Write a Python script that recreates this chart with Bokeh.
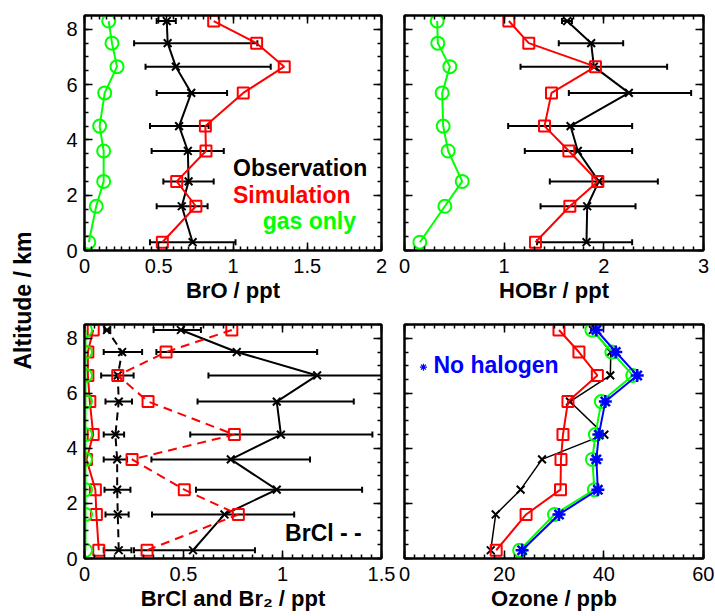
import numpy as np
from bokeh.plotting import figure
from bokeh.layouts import row, column
from bokeh.models import Range1d, LinearAxis, SingleIntervalTicker, CustomJSTickFormatter, Label
from bokeh.embed import file_html
from bokeh.resources import INLINE

# ---------------- data ----------------
alt = [0.3, 1.6, 2.5, 3.6, 4.5, 5.7, 6.65, 7.5, 8.3]

bro_obs = [0.728, 0.655, 0.701, 0.696, 0.637, 0.719, 0.615, 0.560, 0.554]
bro_lo = [0.441, 0.486, 0.531, 0.452, 0.441, 0.486, 0.411, 0.334, 0.486]
bro_hi = [1.017, 0.829, 0.870, 0.938, 0.836, 0.960, 1.254, 1.164, 0.615]
bro_sim = [0.524, 0.750, 0.621, 0.818, 0.814, 1.069, 1.345, 1.159, 0.870]
bro_gas = [0.029, 0.079, 0.129, 0.129, 0.102, 0.136, 0.219, 0.185, 0.163]

hobr_obs = [1.826, 1.833, 1.950, 1.739, 1.666, 2.251, 1.900, 1.873, 1.632]
hobr_lo = [1.330, 1.365, 1.458, 1.207, 1.040, 1.649, 1.164, 1.548, 1.580]
hobr_hi = [2.284, 2.318, 2.542, 2.284, 2.284, 2.876, 2.635, 2.194, 1.680]
hobr_sim = [1.314, 1.659, 1.940, 1.649, 1.405, 1.475, 1.916, 1.247, 1.047]
hobr_gas = [0.154, 0.405, 0.579, 0.438, 0.388, 0.378, 0.455, 0.334, 0.328]

brcl_obs = [0.548, 0.707, 0.971, 0.739, 0.992, 0.971, 1.175, 0.769, 0.487]
brcl_lo = [0.250, 0.341, 0.563, 0.338, 0.534, 0.571, 0.626, 0.363, 0.349]
brcl_hi = [0.861, 1.059, 1.402, 1.139, 1.454, 1.360, 1.600, 1.175, 0.588]
brcl_sim = [0.316, 0.777, 0.504, 0.240, 0.757, 0.321, 0.168, 0.412, 0.744]
br2_obs = [0.173, 0.168, 0.165, 0.165, 0.156, 0.173, 0.168, 0.190, 0.114]
br2_lo = [0.097, 0.106, 0.101, 0.097, 0.097, 0.106, 0.084, 0.097, 0.100]
br2_hi = [0.237, 0.223, 0.232, 0.215, 0.200, 0.240, 0.248, 0.291, 0.130]
br2_sim = [0.072, 0.060, 0.055, 0.010, 0.044, 0.027, 0.017, 0.017, 0.044]
brx_gas = [0.005, 0.005, 0.005, 0.005, 0.005, 0.005, 0.005, 0.005, 0.005]

o3_obs = [17.3, 18.3, 23.3, 27.6, 40.1, 33.2, 41.3, 41.4, 37.8]
o3_sim = [18.4, 24.4, 31.3, 31.4, 31.8, 32.8, 38.7, 35.0, 31.0]
o3_gas = [23.1, 30.1, 38.1, 37.7, 38.3, 39.5, 45.8, 41.6, 37.6]
o3_nohal = [23.6, 31.0, 38.8, 38.5, 39.0, 40.3, 46.7, 42.4, 38.5]

# ---------------- style ----------------
FONT = "Liberation Sans"
RED = "#ff0000"
GREEN = "#00ff00"
BLUE = "#0000ff"


def num_fmt():
    return CustomJSTickFormatter(code="return String(Math.round(tick*1000)/1000)")


def blank_fmt():
    return CustomJSTickFormatter(code="return ''")


def style_axis(ax, show_labels):
    ax.axis_line_width = 2
    ax.axis_line_color = "black"
    ax.major_tick_in = 8
    ax.major_tick_out = 0
    ax.minor_tick_in = 4
    ax.minor_tick_out = 0
    ax.major_tick_line_width = 1.5
    ax.minor_tick_line_width = 1.5
    ax.major_tick_line_color = "black"
    ax.minor_tick_line_color = "black"
    ax.major_label_text_font = FONT
    ax.major_label_text_color = "black"
    ax.major_label_text_font_size = "20px"
    if show_labels:
        ax.formatter = num_fmt()
    else:
        ax.formatter = blank_fmt()
        ax.major_label_standoff = 0


def panel(xmax, xint, xminor, xlabel, ylabels, w, h, bl, br, bt, bb):
    p = figure(width=w, height=h, x_range=Range1d(0, xmax), y_range=Range1d(0, 8.5),
               toolbar_location=None, output_backend="svg",
               min_border_left=bl, min_border_right=br, min_border_top=bt, min_border_bottom=bb)
    p.xaxis.ticker = SingleIntervalTicker(interval=xint, num_minor_ticks=xminor)
    p.yaxis.ticker = SingleIntervalTicker(interval=2, num_minor_ticks=4)
    p.grid.visible = False
    p.outline_line_color = "black"
    p.outline_line_width = 2
    p.background_fill_color = "white"
    p.border_fill_color = "white"
    style_axis(p.xaxis[0], True)
    p.xaxis.major_label_standoff = 8
    p.xaxis.axis_label = xlabel
    p.xaxis.axis_label_text_font = FONT
    p.xaxis.axis_label_text_font_style = "bold"
    p.xaxis.axis_label_text_font_size = "22px"
    p.xaxis.axis_label_text_color = "black"
    p.xaxis.axis_label_standoff = 2
    style_axis(p.yaxis[0], ylabels)
    if ylabels:
        p.yaxis.major_label_standoff = 7
    top = LinearAxis(ticker=SingleIntervalTicker(interval=xint, num_minor_ticks=xminor))
    style_axis(top, False)
    p.add_layout(top, "above")
    right = LinearAxis(ticker=SingleIntervalTicker(interval=2, num_minor_ticks=4))
    style_axis(right, False)
    p.add_layout(right, "right")
    return p


def obs(p, x, lo, hi, dash="solid", bars=True, lw=2):
    if bars:
        p.segment(x0=lo, y0=alt, x1=hi, y1=alt, line_color="black", line_width=2)
        p.scatter(x=lo, y=alt, marker="dash", angle=np.pi / 2, size=6, line_color="black", line_width=2)
        p.scatter(x=hi, y=alt, marker="dash", angle=np.pi / 2, size=6, line_color="black", line_width=2)
    p.line(x, alt, line_color="black", line_width=lw, line_dash=dash)
    p.scatter(x, alt, marker="x", size=11, line_color="black", line_width=2)


def sim(p, x, dash="solid"):
    p.line(x, alt, line_color=RED, line_width=2, line_dash=dash)
    p.scatter(x, alt, marker="square", size=11, line_color=RED, fill_color=None, line_width=2)


def gas(p, x):
    p.line(x, alt, line_color=GREEN, line_width=2)
    p.scatter(x, alt, marker="circle", size=13, line_color=GREEN, fill_color=None, line_width=2)


def txt(p, x, y, t, color, size="23px"):
    p.add_layout(Label(x=x, y=y, text=t, text_color=color, text_font=FONT, text_font_style="bold",
                       text_font_size=size, text_align="left", text_baseline="alphabetic"))


TOP_H, BOT_H = 305, 310
LW, RW = 353, 317

# BrO
p1 = panel(2, 0.5, 10, "BrO / ppt", True, LW, TOP_H, 40, 16, 15, 55)
obs(p1, bro_obs, bro_lo, bro_hi)
sim(p1, bro_sim)
gas(p1, bro_gas)
txt(p1, 1.0, 2.97, "Observation", "black")
txt(p1, 1.0, 2.02, "Simulation", RED)
txt(p1, 1.2, 1.07, "gas only", GREEN)

# HOBr
p2 = panel(3, 1, 10, "HOBr / ppt", False, RW, TOP_H, 7, 11, 15, 55)
obs(p2, hobr_obs, hobr_lo, hobr_hi)
sim(p2, hobr_sim)
gas(p2, hobr_gas)

# BrCl and Br2
p3 = panel(1.5, 0.5, 10, "BrCl and Br\u2082 / ppt", True, LW, BOT_H, 40, 16, 19, 57)
obs(p3, brcl_obs, brcl_lo, brcl_hi)
obs(p3, br2_obs, br2_lo, br2_hi, dash="8 5")
sim(p3, brcl_sim, dash="9 6")
sim(p3, br2_sim)
gas(p3, brx_gas)
txt(p3, 1.013, 0.93, "BrCl - -", "black")

# Ozone
p4 = panel(60, 20, 10, "Ozone / ppb", False, RW, BOT_H, 7, 11, 19, 57)
obs(p4, o3_obs, None, None, bars=False, lw=1.5)
sim(p4, o3_sim)
gas(p4, o3_gas)
p4.line(o3_nohal, alt, line_color=BLUE, line_width=2)
p4.scatter(o3_nohal, alt, marker="asterisk", size=13, line_color=BLUE, line_width=2.5)
p4.scatter([3.8], [6.95], marker="asterisk", size=7, line_color=BLUE, line_width=1.2)
txt(p4, 5.8, 7.02, "No halogen", BLUE)

# shared y label
H = TOP_H + BOT_H
pl = figure(width=44, height=H, x_range=Range1d(0, 44), y_range=Range1d(0, H),
            toolbar_location=None, output_backend="svg", min_border=0,
            x_axis_type=None, y_axis_type=None)
pl.grid.visible = False
pl.outline_line_color = None
pl.add_layout(Label(x=22, y=H - 300, text="Altitude / km", angle=np.pi / 2,
                    text_font=FONT, text_font_style="bold", text_font_size="23px",
                    text_align="center", text_baseline="middle", text_color="black"))

layout = row(pl, column(row(p1, p2), row(p3, p4)))
open("out.html", "w").write(file_html(layout, INLINE))
